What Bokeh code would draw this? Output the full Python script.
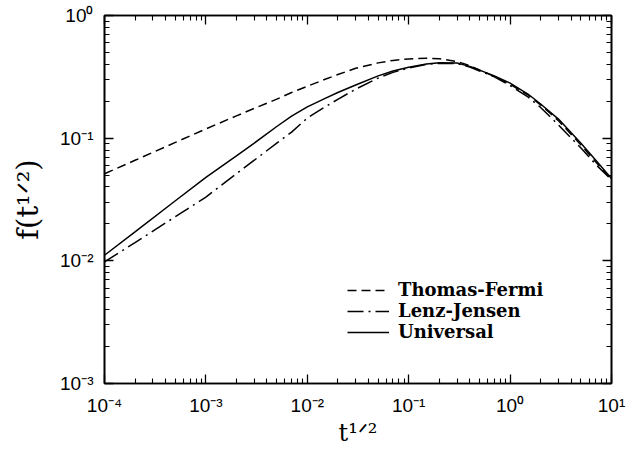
import math
from bokeh.plotting import figure
from bokeh.models import (LogAxis, FixedTicker, Legend, LegendItem,
                          ColumnDataSource, Range1d)
from bokeh.embed import file_html
from bokeh.resources import INLINE

# ---------------- data ----------------
t_half = [1e-4, 2e-4, 5e-4, 1e-3, 2e-3, 3e-3, 5e-3, 7e-3, 1e-2, 1.5e-2, 2e-2,
          3e-2, 5e-2, 7e-2, 0.1, 0.15, 0.2, 0.3, 0.4, 0.5, 0.7, 1.0, 1.5,
          2.0, 3.0, 5.0, 7.0, 10.0]
thomas_fermi = [0.0513, 0.066, 0.0923, 0.119, 0.152, 0.175, 0.208, 0.2355,
                0.265, 0.302, 0.330, 0.3715, 0.411, 0.4305, 0.4426, 0.449,
                0.4446, 0.4217, 0.391, 0.359, 0.318, 0.275, 0.225, 0.187,
                0.1387, 0.0881, 0.0638, 0.0459]
lenz_jensen = [0.0098, 0.0141, 0.0229, 0.0331, 0.0513, 0.0661, 0.0912, 0.112,
               0.146, 0.180, 0.2075, 0.251, 0.309, 0.344, 0.373, 0.400,
               0.407, 0.4055, 0.380, 0.353, 0.316, 0.268, 0.217, 0.178,
               0.128, 0.083, 0.061, 0.0457]
universal = [0.0111, 0.0172, 0.0309, 0.0479, 0.0716, 0.0912, 0.1245, 0.151,
             0.180, 0.211, 0.2355, 0.2716, 0.322, 0.353, 0.378, 0.402,
             0.411, 0.410, 0.385, 0.359, 0.322, 0.281, 0.229, 0.190,
             0.143, 0.091, 0.066, 0.0468]

series_names = ["Thomas-Fermi", "Lenz-Jensen", "Universal"]

x_ticks = [1e-4, 1e-3, 1e-2, 1e-1, 1e0, 1e1]
x_tick_labels = ["10\u207b\u2074", "10\u207b\u00b3", "10\u207b\u00b2",
                 "10\u207b\u00b9", "10\u2070", "10\u00b9"]
y_ticks = [1e-3, 1e-2, 1e-1, 1e0]
y_tick_labels = ["10\u207b\u00b3", "10\u207b\u00b2", "10\u207b\u00b9", "10\u2070"]

x_title = "t\u00b9\u141f\u00b2"
y_title = "f(t\u00b9\u141f\u00b2)"

# ---------------- layout ----------------
W, H = 626, 452
FR_L, FR_R, FR_T, FR_B = 104, 611, 15, 383

p = figure(width=W, height=H, x_axis_type="log", y_axis_type="log",
           x_range=Range1d(1e-4, 10.0), y_range=Range1d(1e-3, 1.0),
           output_backend="svg", toolbar_location=None,
           min_border_left=FR_L, min_border_right=W - FR_R,
           min_border_top=FR_T, min_border_bottom=H - FR_B)
p.grid.visible = False
p.background_fill_color = "white"
p.border_fill_color = "white"
p.outline_line_color = "black"
p.outline_line_width = 1.6

minor_x = [m * 10 ** e for e in range(-4, 1) for m in range(2, 10)]
minor_y = [m * 10 ** e for e in range(-3, 0) for m in range(2, 10)]

TICK_FONT = "Liberation Sans"
LBL_FONT = "DejaVu Serif"


def style_axis(ax, show_labels):
    ax.axis_line_color = "black"
    ax.axis_line_width = 1.6
    ax.major_tick_in = 9
    ax.major_tick_out = 0
    ax.minor_tick_in = 5
    ax.minor_tick_out = 0
    ax.major_tick_line_color = "black"
    ax.minor_tick_line_color = "black"
    ax.major_tick_line_width = 1.3
    ax.minor_tick_line_width = 1.1
    if show_labels:
        ax.major_label_text_font = TICK_FONT
        ax.major_label_text_font_size = "19px"
        ax.major_label_text_color = "black"
    else:
        ax.major_label_text_font_size = "1px"
        ax.major_label_standoff = 0


xb = p.xaxis[0]
xb.ticker = FixedTicker(ticks=x_ticks, minor_ticks=minor_x)
xb.major_label_overrides = dict(zip(x_ticks, x_tick_labels))
style_axis(xb, True)
xb.major_label_standoff = 11
xb.axis_label = x_title
xb.axis_label_text_font = LBL_FONT
xb.axis_label_text_font_size = "24px"
xb.axis_label_text_font_style = "normal"
xb.axis_label_text_color = "black"
xb.axis_label_standoff = 0

yl_ax = p.yaxis[0]
yl_ax.ticker = FixedTicker(ticks=y_ticks, minor_ticks=minor_y)
yl_ax.major_label_overrides = dict(zip(y_ticks, y_tick_labels))
style_axis(yl_ax, True)
yl_ax.major_label_standoff = 11
yl_ax.axis_label = y_title
yl_ax.axis_label_text_font = LBL_FONT
yl_ax.axis_label_text_font_size = "29px"
yl_ax.axis_label_text_font_style = "normal"
yl_ax.axis_label_text_color = "black"
yl_ax.axis_label_standoff = 12

xt = LogAxis(ticker=FixedTicker(ticks=x_ticks, minor_ticks=minor_x),
             major_label_overrides={v: "" for v in x_ticks})
style_axis(xt, False)
p.add_layout(xt, "above")

yr = LogAxis(ticker=FixedTicker(ticks=y_ticks, minor_ticks=minor_y),
             major_label_overrides={v: "" for v in y_ticks})
style_axis(yr, False)
p.add_layout(yr, "right")

src = ColumnDataSource(dict(x=t_half, tf=thomas_fermi, lj=lenz_jensen, un=universal))
r_tf = p.line("x", "tf", source=src, line_color="black", line_width=1.5, line_dash="9 5")
r_lj = p.line("x", "lj", source=src, line_color="black", line_width=1.5, line_dash="16 5 2 5")
r_un = p.line("x", "un", source=src, line_color="black", line_width=1.5)

legend = Legend(items=[LegendItem(label=series_names[0], renderers=[r_tf]),
                       LegendItem(label=series_names[1], renderers=[r_lj]),
                       LegendItem(label=series_names[2], renderers=[r_un])],
                location=(243, 41), glyph_width=42, glyph_height=20,
                label_height=20, spacing=0, padding=0, margin=0,
                label_standoff=9, border_line_color=None,
                background_fill_alpha=0,
                label_text_font=LBL_FONT, label_text_font_size="18px",
                label_text_font_style="bold", label_text_color="black")
p.add_layout(legend)

open("out.html", "w").write(file_html(p, INLINE))
